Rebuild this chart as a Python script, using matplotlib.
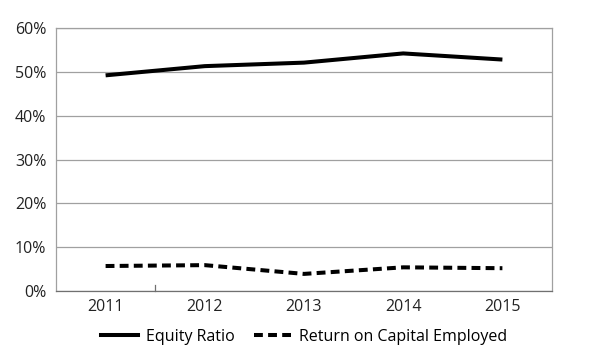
import matplotlib
matplotlib.use("Agg")
import matplotlib.pyplot as plt
from matplotlib.lines import Line2D

years = ["2011", "2012", "2013", "2014", "2015"]
equity_ratio = [49.2, 51.3, 52.1, 54.2, 52.8]
roce = [5.7, 5.9, 3.9, 5.4, 5.2]
y_ticks = [0, 10, 20, 30, 40, 50, 60]
y_labels = ["0%", "10%", "20%", "30%", "40%", "50%", "60%"]

plt.rcParams['font.family'] = ['Open Sans', 'DejaVu Sans']
FS = 11.5

fig = plt.figure(figsize=(6, 3.58), dpi=100)
ax = fig.add_axes([56/600, 1-291/358, (552-56)/600, (291-28)/358])

x = list(range(len(years)))
lw = 2.9
ax.plot(x, equity_ratio, color='black', lw=lw, solid_capstyle='butt', solid_joinstyle='miter', label='Equity Ratio')
ax.plot(x, roce, color='black', lw=lw, dashes=(2.2, 1.3), dash_capstyle='butt', label='Return on Capital Employed')

ax.set_xlim(-0.5, 4.5)
ax.set_ylim(0, 60)
ax.set_yticks(y_ticks)
ax.set_yticklabels(y_labels)
ax.set_xticks(x)
ax.set_xticklabels(years)
ax.tick_params(axis='both', length=0, labelsize=FS, colors='#222222')
ax.tick_params(axis='y', pad=7)
ax.tick_params(axis='x', pad=6)
ax.grid(axis='y', color='#a0a0a0', lw=0.9)
ax.set_axisbelow(True)
for s in ['left', 'right', 'top']:
    ax.spines[s].set_color('#a0a0a0')
    ax.spines[s].set_linewidth(0.9)
ax.spines['bottom'].set_color('#707070')
ax.spines['bottom'].set_linewidth(0.9)
# single small inward category-boundary tick
ax.plot([0.5, 0.5], [0, 1.3], color='#707070', lw=0.9, clip_on=False)

handles = [Line2D([], [], color='black', lw=lw),
           Line2D([], [], color='black', lw=lw, dashes=(2.2, 1.3), dash_capstyle='butt')]
fig.legend(handles, ['Equity Ratio', 'Return on Capital Employed'], loc='center',
           bbox_to_anchor=(0.507, 1-337/358), ncol=2, frameon=False, fontsize=FS,
           handlelength=2.3, handletextpad=0.5, columnspacing=1.2)

fig.savefig('out.png', dpi=100)
